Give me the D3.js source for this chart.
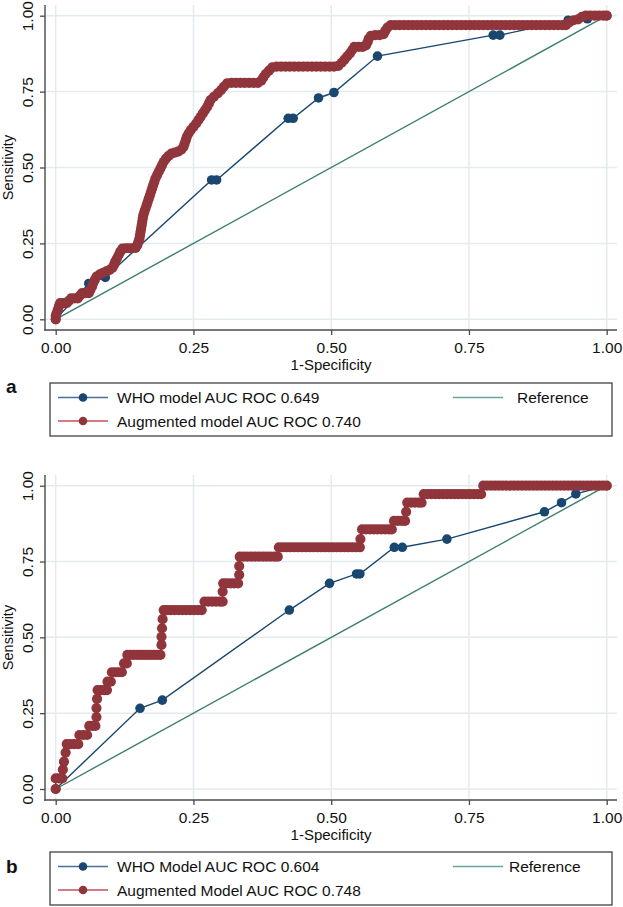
<!DOCTYPE html>
<html><head><meta charset="utf-8">
<script src="https://cdn.jsdelivr.net/npm/d3@7"></script>
<style>html,body{margin:0;padding:0;background:#fff;} svg{display:block;font-family:"Liberation Sans",Arial,Helvetica,sans-serif;}</style>
</head><body><svg id="c" width="623" height="907"></svg>
<script>
const tickValues=[0,0.25,0.5,0.75,1];
const tickLabels=["0.00","0.25","0.50","0.75","1.00"];
const xTitle="1-Specificity", yTitle="Sensitivity";
const panelLetters=["a","b"];
const whoLabels=["WHO model AUC ROC 0.649","WHO Model AUC ROC 0.604"];
const augLabels=["Augmented model AUC ROC 0.740","Augmented Model AUC ROC 0.748"];
const refLabel="Reference";
const refLine=[[0,0],[1,1]];

const whoA=[[0,0],[0.06,0.118],[0.09,0.138],[0.283,0.459],[0.292,0.459],[0.422,0.662],[0.431,0.662],[0.477,0.729],[0.505,0.747],[0.584,0.867],[0.794,0.936],[0.806,0.936],[0.93,0.985],[0.965,0.99],[1,1]];

const augA=[[0,0],[0,0.011],[0.002,0.022],[0.004,0.033],[0.006,0.044],[0.008,0.053],[0.014,0.053],[0.02,0.053],[0.024,0.061],[0.028,0.069],[0.034,0.069],[0.04,0.069],[0.044,0.078],[0.048,0.086],[0.054,0.086],[0.06,0.086],[0.063,0.097],[0.066,0.108],[0.068,0.119],[0.071,0.13],[0.074,0.141],[0.08,0.148],[0.086,0.153],[0.092,0.158],[0.098,0.163],[0.103,0.17],[0.106,0.18],[0.108,0.19],[0.111,0.2],[0.114,0.211],[0.117,0.222],[0.121,0.233],[0.127,0.234],[0.133,0.234],[0.139,0.234],[0.145,0.235],[0.148,0.244],[0.15,0.255],[0.152,0.266],[0.153,0.277],[0.154,0.288],[0.155,0.299],[0.156,0.31],[0.157,0.321],[0.158,0.332],[0.159,0.343],[0.161,0.354],[0.163,0.365],[0.165,0.376],[0.167,0.387],[0.169,0.398],[0.171,0.409],[0.173,0.42],[0.175,0.431],[0.177,0.442],[0.179,0.453],[0.181,0.464],[0.184,0.475],[0.187,0.486],[0.19,0.497],[0.193,0.508],[0.196,0.519],[0.2,0.529],[0.205,0.538],[0.21,0.546],[0.216,0.549],[0.222,0.552],[0.228,0.559],[0.232,0.568],[0.234,0.579],[0.236,0.59],[0.238,0.601],[0.241,0.612],[0.245,0.623],[0.25,0.634],[0.255,0.645],[0.259,0.656],[0.263,0.667],[0.267,0.678],[0.271,0.689],[0.275,0.7],[0.278,0.711],[0.281,0.722],[0.287,0.733],[0.294,0.744],[0.3,0.755],[0.305,0.766],[0.311,0.777],[0.319,0.779],[0.327,0.779],[0.335,0.779],[0.343,0.779],[0.351,0.779],[0.359,0.779],[0.367,0.779],[0.373,0.786],[0.377,0.797],[0.381,0.808],[0.387,0.819],[0.393,0.83],[0.401,0.832],[0.409,0.832],[0.417,0.832],[0.425,0.832],[0.433,0.832],[0.441,0.832],[0.449,0.832],[0.457,0.832],[0.465,0.832],[0.473,0.832],[0.481,0.832],[0.489,0.832],[0.497,0.832],[0.505,0.832],[0.513,0.835],[0.519,0.845],[0.524,0.855],[0.529,0.866],[0.534,0.876],[0.538,0.887],[0.542,0.897],[0.55,0.897],[0.557,0.897],[0.563,0.902],[0.566,0.913],[0.568,0.924],[0.572,0.934],[0.58,0.936],[0.588,0.936],[0.595,0.939],[0.598,0.95],[0.602,0.961],[0.608,0.969],[0.616,0.969],[0.624,0.969],[0.632,0.969],[0.64,0.969],[0.648,0.969],[0.656,0.969],[0.664,0.969],[0.672,0.969],[0.68,0.969],[0.688,0.969],[0.696,0.969],[0.704,0.969],[0.712,0.969],[0.72,0.969],[0.728,0.969],[0.736,0.969],[0.744,0.969],[0.752,0.969],[0.76,0.969],[0.768,0.969],[0.776,0.969],[0.784,0.969],[0.792,0.969],[0.8,0.969],[0.808,0.969],[0.816,0.969],[0.824,0.969],[0.832,0.969],[0.84,0.969],[0.848,0.969],[0.856,0.969],[0.864,0.969],[0.872,0.969],[0.88,0.969],[0.888,0.969],[0.896,0.969],[0.904,0.969],[0.912,0.969],[0.92,0.969],[0.926,0.969],[0.932,0.978],[0.94,0.985],[0.948,0.988],[0.955,0.996],[0.962,1],[0.97,1],[0.978,1],[0.986,1],[0.994,1],[1,1]];

const whoB=[[0,0],[0.153,0.266],[0.1935,0.293],[0.424,0.59],[0.497,0.678],[0.546,0.709],[0.552,0.709],[0.6145,0.797],[0.629,0.797],[0.71,0.824],[0.887,0.914],[0.918,0.944],[0.944,0.973],[1,1]];

const augB=[[0,0],[0,0.035],[0.006,0.035],[0.012,0.035],[0.013,0.064],[0.015,0.09],[0.018,0.12],[0.02,0.148],[0.027,0.148],[0.034,0.148],[0.041,0.148],[0.043,0.178],[0.05,0.178],[0.057,0.178],[0.061,0.208],[0.067,0.208],[0.072,0.208],[0.074,0.237],[0.074,0.267],[0.075,0.297],[0.076,0.326],[0.082,0.326],[0.088,0.326],[0.093,0.326],[0.094,0.354],[0.1,0.354],[0.102,0.385],[0.108,0.385],[0.114,0.385],[0.12,0.385],[0.124,0.414],[0.129,0.414],[0.13,0.442],[0.136,0.442],[0.142,0.442],[0.148,0.442],[0.154,0.442],[0.16,0.442],[0.166,0.442],[0.172,0.442],[0.178,0.442],[0.184,0.442],[0.19,0.442],[0.192,0.475],[0.192,0.502],[0.193,0.53],[0.194,0.56],[0.196,0.59],[0.202,0.59],[0.209,0.59],[0.216,0.59],[0.223,0.59],[0.23,0.59],[0.237,0.59],[0.244,0.59],[0.251,0.59],[0.258,0.59],[0.265,0.59],[0.27,0.618],[0.277,0.618],[0.284,0.618],[0.291,0.618],[0.298,0.618],[0.303,0.618],[0.303,0.651],[0.304,0.678],[0.31,0.678],[0.317,0.678],[0.324,0.678],[0.331,0.678],[0.333,0.706],[0.333,0.735],[0.334,0.766],[0.341,0.766],[0.348,0.766],[0.355,0.766],[0.362,0.766],[0.369,0.766],[0.376,0.766],[0.383,0.766],[0.39,0.766],[0.397,0.766],[0.403,0.766],[0.405,0.797],[0.412,0.797],[0.419,0.797],[0.426,0.797],[0.433,0.797],[0.44,0.797],[0.447,0.797],[0.454,0.797],[0.461,0.797],[0.468,0.797],[0.475,0.797],[0.482,0.797],[0.489,0.797],[0.496,0.797],[0.503,0.797],[0.51,0.797],[0.517,0.797],[0.524,0.797],[0.531,0.797],[0.538,0.797],[0.545,0.797],[0.552,0.797],[0.553,0.824],[0.556,0.856],[0.563,0.856],[0.57,0.856],[0.577,0.856],[0.584,0.856],[0.591,0.856],[0.598,0.856],[0.605,0.856],[0.61,0.856],[0.614,0.884],[0.621,0.884],[0.628,0.884],[0.634,0.884],[0.636,0.914],[0.638,0.944],[0.645,0.944],[0.652,0.944],[0.659,0.944],[0.664,0.944],[0.668,0.972],[0.675,0.972],[0.682,0.972],[0.689,0.972],[0.696,0.972],[0.703,0.972],[0.71,0.972],[0.717,0.972],[0.724,0.972],[0.731,0.972],[0.738,0.972],[0.745,0.972],[0.752,0.972],[0.759,0.972],[0.766,0.972],[0.772,0.972],[0.776,1],[0.783,1],[0.79,1],[0.797,1],[0.804,1],[0.811,1],[0.818,1],[0.825,1],[0.832,1],[0.839,1],[0.846,1],[0.853,1],[0.86,1],[0.867,1],[0.874,1],[0.881,1],[0.888,1],[0.895,1],[0.902,1],[0.909,1],[0.916,1],[0.923,1],[0.93,1],[0.937,1],[0.944,1],[0.951,1],[0.958,1],[0.965,1],[0.972,1],[0.979,1],[0.986,1],[0.993,1],[1,1]];

const COL={who:"#1a476f",aug:"#90353b",ref:"#3b7f6f",grid:"#e4ebee",axis:"#4a4a4a",
  whoLeg:"#4b6f96",augLeg:"#c0525a",refLeg:"#6aa59a"};
const svg=d3.select("#c");
const panels=[
 {who:whoA,aug:augA,top:5,axisY:330,y0:319.3,y1:15.7,legTop:383,refTextX:517,letterY:393},
 {who:whoB,aug:augB,top:475,axisY:800,y0:789,y1:485.7,legTop:852,refTextX:509,letterY:873}
];
const x=d3.scaleLinear().domain([0,1]).range([55.7,606.7]);
const fmt=d=>tickLabels[tickValues.indexOf(d)];
panels.forEach((p,i)=>{
  const y=d3.scaleLinear().domain([0,1]).range([p.y0,p.y1]);
  const g=svg.append("g");
  g.append("g").selectAll("line").data(tickValues).join("line")
    .attr("x1",45).attr("x2",617).attr("y1",d=>y(d)).attr("y2",d=>y(d))
    .attr("stroke",COL.grid).attr("stroke-width",1.5);
  g.append("g").selectAll("line").data(tickValues).join("line")
    .attr("y1",p.top).attr("y2",p.axisY).attr("x1",d=>x(d)).attr("x2",d=>x(d))
    .attr("stroke",COL.grid).attr("stroke-width",1.5);
  const ya=g.append("g").attr("transform","translate(45,0)")
    .call(d3.axisLeft(y).tickValues(tickValues).tickFormat(fmt).tickSize(5).tickSizeOuter(0));
  ya.select(".domain").remove();
  ya.selectAll(".tick line").attr("stroke",COL.axis).attr("stroke-width",1.3);
  ya.selectAll(".tick text").attr("transform","rotate(-90)").attr("x",0).attr("y",-12).attr("dy",0)
    .attr("text-anchor","middle").attr("font-size",15.5).attr("fill","#111").attr("font-family",null);
  const xa=g.append("g").attr("transform",`translate(0,${p.axisY})`)
    .call(d3.axisBottom(x).tickValues(tickValues).tickFormat(fmt).tickSize(5).tickSizeOuter(0));
  xa.select(".domain").remove();
  xa.selectAll(".tick line").attr("stroke",COL.axis).attr("stroke-width",1.3);
  xa.selectAll(".tick text").attr("y",23).attr("dy",0).attr("font-size",15.5).attr("fill","#111").attr("font-family",null);
  g.append("line").attr("x1",45).attr("x2",45).attr("y1",p.top).attr("y2",p.axisY+0.7)
    .attr("stroke",COL.axis).attr("stroke-width",1.4);
  g.append("line").attr("x1",44.3).attr("x2",617).attr("y1",p.axisY).attr("y2",p.axisY)
    .attr("stroke",COL.axis).attr("stroke-width",1.4);
  g.append("text").attr("x",331).attr("y",p.axisY+40).attr("text-anchor","middle")
    .attr("font-size",15).attr("fill","#111").text(xTitle);
  g.append("text").attr("transform",`translate(13,${(p.axisY+p.top)/2}) rotate(-90)`)
    .attr("text-anchor","middle").attr("font-size",14.5).attr("fill","#111").text(yTitle);
  const line=d3.line().x(d=>x(d[0])).y(d=>y(d[1]));
  g.append("path").attr("d",line(refLine)).attr("fill","none").attr("stroke",COL.ref).attr("stroke-width",1.4);
  g.append("path").attr("d",line(p.who)).attr("fill","none").attr("stroke",COL.who).attr("stroke-width",1.4);
  g.append("g").selectAll("circle").data(p.who).join("circle")
    .attr("cx",d=>x(d[0])).attr("cy",d=>y(d[1])).attr("r",4.8).attr("fill",COL.who);
  g.append("path").attr("d",line(p.aug)).attr("fill","none").attr("stroke",COL.aug).attr("stroke-width",1.4);
  g.append("g").selectAll("circle").data(p.aug).join("circle")
    .attr("cx",d=>x(d[0])).attr("cy",d=>y(d[1])).attr("r",5.1).attr("fill",COL.aug);
  const L=svg.append("g");
  L.append("text").attr("x",6).attr("y",p.letterY).attr("font-size",19).attr("font-weight","bold")
    .attr("fill","#111").text(panelLetters[i]);
  L.append("rect").attr("x",50).attr("y",p.legTop).attr("width",562).attr("height",53)
    .attr("fill","#fff").attr("stroke","#333").attr("stroke-width",1.2);
  const rows=[{c:COL.whoLeg,m:COL.who,t:whoLabels[i],dy:14.5},{c:COL.augLeg,m:COL.aug,t:augLabels[i],dy:38}];
  rows.forEach(r=>{
    const ry=p.legTop+r.dy;
    L.append("line").attr("x1",58).attr("x2",108).attr("y1",ry).attr("y2",ry).attr("stroke",r.c).attr("stroke-width",1.5);
    L.append("circle").attr("cx",83).attr("cy",ry).attr("r",4.3).attr("fill",r.m);
    L.append("text").attr("x",117).attr("y",ry+5.5).attr("font-size",15.5).attr("fill","#111").text(r.t);
  });
  const ry=p.legTop+14.5;
  L.append("line").attr("x1",453).attr("x2",503).attr("y1",ry).attr("y2",ry).attr("stroke",COL.refLeg).attr("stroke-width",1.5);
  L.append("text").attr("x",p.refTextX).attr("y",ry+5.5).attr("font-size",15.5).attr("fill","#111").text(refLabel);
});
</script></body></html>
